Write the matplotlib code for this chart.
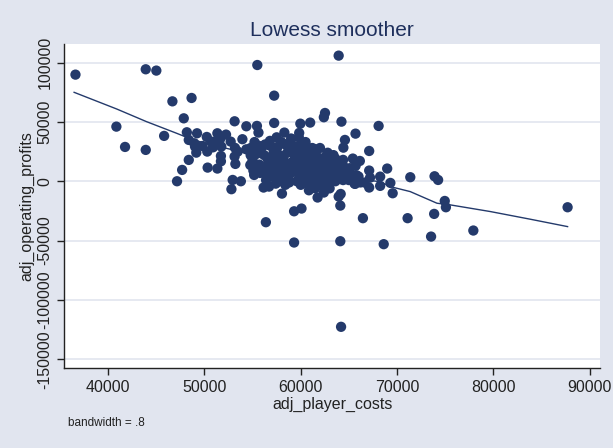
import matplotlib.pyplot as plt
import numpy as np

# scattered / outlying points (adj_player_costs, adj_operating_profits)
outer_x = [36600, 43900, 45000, 55490, 63940, 40850, 41750, 43900, 46670, 48660,
           47850, 45810, 48170, 47680, 47150, 48370, 57240, 62520, 62400, 53130,
           54350, 55450, 55610, 57240, 59960, 60980, 59840, 64230, 68090, 65690,
           64590, 64430, 67110, 65410, 66140, 68980, 67110, 68250, 69310, 69550,
           71380, 73900, 74270, 74960, 75080, 73860, 71100, 77930, 73540, 87720,
           66460, 68620, 64110, 59310, 56380, 59310, 60080, 64110, 64190, 52800,
           52930, 53780, 58050, 61750, 62400, 63940, 64150, 67110, 65650, 68250,
           66630, 56140, 56710, 60850, 61500]
outer_y = [89800, 94300, 93200, 97900, 105800, 46000, 28900, 26400, 67300, 70150,
           53000, 38200, 41250, 9540, 0, 17960, 72100, 57500, 53900, 50500,
           46300, 46600, 41000, 49100, 48500, 49400, 40700, 50200, 46600, 40100,
           34800, 28300, 25500, 19100, 17100, 10700, 9000, 3900, -1400, -10100,
           3400, 4200, 1100, -16600, -21900, -27500, -31100, -41500, -46600, -21900,
           -31100, -53000, -50500, -51600, -34500, -25300, -23000, -20500, -122600, -6700,
           1100, 0, -10400, -13700, -9500, -12900, -10700, -5300, -2200, -3900,
           -1100, -5300, -4500, -7600, -5900]

# left group
left_x = [49230, 50240, 51340, 52240, 51630, 48940, 49020, 49150, 50290, 50890,
          51100, 51750, 52720, 53170, 53940, 51710, 51710, 50330, 51340, 53130,
          53210, 53460, 54350, 54800, 54760, 55080, 55160, 49800, 50690, 48370]
left_y = [40400, 37300, 40400, 39300, 35600, 32000, 29200, 24100, 25000, 28600,
          33400, 29200, 33400, 28100, 35400, 21300, 16800, 11500, 10700, 20800,
          14600, 25000, 26900, 21900, 13700, 9000, 5300, 29700, 33400, 34800]

# central cluster (thousands)
core_x = [57.5, 58.3, 59.0, 59.8, 60.5, 58.0, 56.8, 61.5, 62.0, 56.3, 55.6, 55.2,
          56.0, 56.8, 57.6, 58.4, 59.2, 60.0, 60.6, 61.2, 62.8, 63.4, 58.8, 57.2, 55.8, 54.8,
          55.4, 56.2, 57.0, 57.8, 58.6, 59.4, 60.2, 61.0, 61.8, 62.6, 63.6, 64.4,
          55.0, 56.6, 58.2, 59.8, 60.6, 61.4, 62.2, 63.0,
          54.9, 55.7, 56.5, 57.3, 58.1, 58.9, 59.7, 60.5, 61.3, 62.1, 62.9, 63.7, 64.5, 65.1, 65.7,
          55.3, 56.1, 56.9, 57.7, 58.5, 59.3, 60.1, 60.9, 61.7, 62.5, 63.3, 64.1, 64.9,
          55.8, 56.6, 57.4, 58.2, 59.0, 59.8, 60.6, 61.4, 62.2, 63.0, 63.8, 64.6, 65.4,
          57.0, 58.6, 60.2, 61.8, 63.4, 65.0, 66.0,
          56.4, 57.8, 58.8, 59.6, 60.4, 61.2, 62.0, 62.8, 63.6, 64.4, 65.6, 66.2,
          60.0, 61.0, 62.4, 63.0, 58.4, 57.4, 65.8, 67.2,
          57.9, 59.5, 60.9, 62.3, 56.9, 58.7, 60.3, 61.9, 63.1, 59.1, 61.1, 62.7]
core_y = [37, 41, 36, 37, 33, 33, 34, 27, 28, 31, 30, 33,
          29, 30, 29, 31, 30, 31, 29, 28, 24, 22, 27, 25, 27, 28,
          23, 22, 21, 22, 24, 21, 23, 22, 20, 21, 19, 18,
          19, 18, 19, 18, 17, 17, 16, 17,
          15, 14, 13, 15, 14, 13, 15, 14, 13, 12, 14, 13, 12, 11, 13,
          11, 10, 11, 10, 11, 10, 11, 9, 10, 9, 10, 9, 8,
          7, 6, 7, 6, 7, 6, 5, 6, 5, 6, 5, 4, 5,
          4, 3, 3, 3, 2, 1, 4,
          1, 0, -1, 0, -1, 1, 0, -1, 0, 1, -2, -1,
          -3, -4, -4, -6, -3, -2, 5, 3,
          17, 26, 20, 7, 8, 2, 8, 14, 3, 16, 24, 12]

# lowess curve
smooth_x = [36460, 40870, 43980, 47110, 48840, 51260, 53700, 56000, 58500, 61000,
            63500, 66000, 68250, 69290, 71370, 74150, 75530, 79680, 83860, 87720]
smooth_y = [74900, 60900, 50200, 40400, 34800, 29700, 25000, 20000, 15000, 10000,
            5500, 1500, -300, -4500, -8700, -18500, -19900, -25500, -32000, -38200]

x = np.array(outer_x + left_x + [v * 1000 for v in core_x])
y = np.array(outer_y + left_y + [v * 1000 for v in core_y])

navy = "#243a6b"
bg = "#e1e5ef"

plt.rcParams['font.family'] = ['Liberation Sans', 'DejaVu Sans']
plt.rcParams['axes.unicode_minus'] = False

fig = plt.figure(figsize=(6.13, 4.48), dpi=100, facecolor=bg)
ax = fig.add_axes([0.105, 0.178, 0.874, 0.723])
ax.set_facecolor("white")

ax.scatter(x, y, s=55, color=navy, edgecolors="none", zorder=3)
ax.plot(smooth_x, smooth_y, color=navy, lw=1.0, zorder=4)

ax.set_xlim(35447, 91100)
ax.set_ylim(-157500, 115300)
ax.set_xticks(np.arange(40000, 90001, 10000))
ax.set_yticks(np.arange(-150000, 100001, 50000))
ax.grid(axis="y", color="#e1e5ef", lw=1.2, zorder=0)

for s in ["top", "right"]:
    ax.spines[s].set_visible(False)
for s in ["left", "bottom"]:
    ax.spines[s].set_color("#222222")
    ax.spines[s].set_linewidth(1.0)

ax.tick_params(length=5, width=1, color="#222222", labelsize=11.5, labelcolor="#222222")
plt.setp(ax.get_yticklabels(), rotation=90, va="center")

ax.set_xlabel("adj_player_costs", fontsize=11.5, color="#222222", labelpad=1)
ax.set_ylabel("adj_operating_profits", fontsize=11.5, color="#222222", labelpad=2.5)
ax.set_title("Lowess smoother", fontsize=15, color="#1e2f5c", pad=6)
fig.text(0.111, 0.048, "bandwidth = .8", fontsize=8.5, color="#222222")

fig.savefig("out.png", dpi=100, facecolor=bg)
